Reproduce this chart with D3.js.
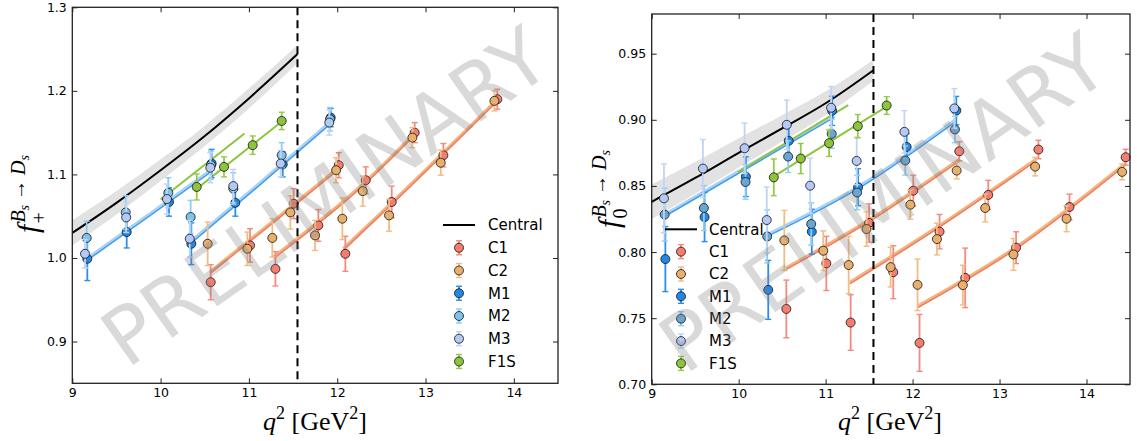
<!DOCTYPE html>
<html lang="en">
<head>
<meta charset="UTF-8">
<title>Bs to Ds form factors</title>
<script src="https://cdn.jsdelivr.net/npm/d3@7/dist/d3.min.js"></script>
<style>
    body { margin: 0; background: #fff; }
    svg text { font-family: "DejaVu Sans", sans-serif; }
    .math { font-family: "Liberation Serif", "DejaVu Serif", serif; }
</style>
</head>
<body>
<svg id="chart" width="1137" height="441"></svg>
<script>
// ---------- data (q2, value, error) ----------
var xTicks = [9, 10, 11, 12, 13, 14];
var plusYTicks = [0.9, 1.0, 1.1, 1.2, 1.3];
var plusYLabels = ["0.9", "1.0", "1.1", "1.2", "1.3"];
var zeroYTicks = [0.70, 0.75, 0.80, 0.85, 0.90, 0.95];
var zeroYLabels = ["0.70", "0.75", "0.80", "0.85", "0.90", "0.95"];
var legendNames = ["C1", "C2", "M1", "M2", "M3", "F1S"];
var qMax = 11.55;

// f_+ panel
var centralQ2 = [9.0, 9.5, 10.0, 10.5, 11.0, 11.55];
var plusCentral = [1.030, 1.066, 1.105, 1.146, 1.191, 1.244];
var plusBand = [0.015, 0.014, 0.013, 0.012, 0.012, 0.011];

var plusC1 = [[10.567, 0.971, 0.021], [11.013, 1.015, 0.020], [11.300, 0.987, 0.0205], [11.507, 1.065, 0.018],
    [11.786, 1.039, 0.019], [12.017, 1.111, 0.015], [12.092, 1.005, 0.021], [12.323, 1.093, 0.016],
    [12.617, 1.067, 0.019], [12.877, 1.150, 0.012], [13.202, 1.123, 0.014], [13.813, 1.190, 0.012]];
var plusC2 = [[10.533, 1.017, 0.026], [10.982, 1.011, 0.020], [11.265, 1.024, 0.023], [11.469, 1.0545, 0.020],
    [11.749, 1.027, 0.018], [11.987, 1.105, 0.015], [12.058, 1.047, 0.025], [12.289, 1.080, 0.018],
    [12.587, 1.051, 0.019], [12.851, 1.144, 0.012], [13.172, 1.114, 0.015], [13.780, 1.188, 0.012]];
var plusM1 = [[9.170, 0.999, 0.026], [9.616, 1.031, 0.019], [10.095, 1.067, 0.017], [10.578, 1.113, 0.017],
    [10.348, 1.017, 0.025], [10.846, 1.066, 0.016], [11.383, 1.112, 0.015], [11.926, 1.168, 0.011]];
var plusM2 = [[9.163, 1.024, 0.020], [9.605, 1.0545, 0.020], [10.087, 1.078, 0.018], [10.570, 1.111, 0.017],
    [10.340, 1.049, 0.020], [10.823, 1.083, 0.019], [11.371, 1.123, 0.015], [11.918, 1.166, 0.014]];
var plusM3 = [[9.144, 1.005, 0.017], [9.610, 1.0485, 0.018], [10.072, 1.0705, 0.018], [10.563, 1.108, 0.018],
    [10.330, 1.023, 0.022], [10.823, 1.086, 0.020], [11.360, 1.113, 0.016], [11.910, 1.162, 0.015]];
var plusF1S = [[10.409, 1.085, 0.0156], [10.718, 1.109, 0.012], [11.043, 1.135, 0.011], [11.371, 1.164, 0.0104]];

var plusFitC = [[[10.56, 0.983], [11.30, 1.046], [12.02, 1.108]],
    [[11.28, 1.001], [12.30, 1.089], [12.88, 1.149]],
    [[12.07, 1.011], [12.60, 1.064], [13.81, 1.189]]];
var plusFitM = [[[9.17, 0.999], [10.10, 1.069], [10.60, 1.107]],
    [[10.34, 1.019], [11.10, 1.087], [11.93, 1.163]]];
var plusFitF = [[[10.00, 1.070], [10.95, 1.149]],
    [[10.41, 1.083], [11.37, 1.163]]];

// f_0 panel
var zeroCentral = [0.838, 0.856, 0.875, 0.8935, 0.9125, 0.9375];
var zeroBand = [0.013, 0.012, 0.011, 0.010, 0.009, 0.008];

var zeroC1 = [[10.548, 0.757, 0.0218], [11.008, 0.7914, 0.0205], [11.288, 0.7467, 0.021], [11.500, 0.822, 0.0145],
    [11.778, 0.7848, 0.020], [12.008, 0.8464, 0.0117], [12.080, 0.7313, 0.0215], [12.310, 0.8154, 0.013],
    [12.537, 0.8762, 0.0072], [12.605, 0.7805, 0.0225], [12.870, 0.8432, 0.011], [13.190, 0.8033, 0.012],
    [13.447, 0.8775, 0.007], [13.804, 0.8341, 0.0097], [14.450, 0.8717, 0.006]];
var zeroC2 = [[10.525, 0.8088, 0.0227], [10.973, 0.801, 0.015], [11.265, 0.7902, 0.0217], [11.470, 0.8174, 0.013],
    [11.747, 0.7886, 0.015], [11.974, 0.8358, 0.011], [12.057, 0.7752, 0.0195], [12.280, 0.8098, 0.012],
    [12.507, 0.8616, 0.0063], [12.578, 0.775, 0.015], [12.835, 0.8333, 0.0105], [13.160, 0.7982, 0.012],
    [13.409, 0.8646, 0.007], [13.770, 0.8252, 0.0098], [14.410, 0.8606, 0.006]];
var zeroM1 = [[9.157, 0.7947, 0.0246], [9.608, 0.8265, 0.0186], [10.083, 0.857, 0.015], [10.576, 0.8841, 0.012],
    [11.075, 0.9068, 0.011], [10.340, 0.7714, 0.0223], [10.841, 0.8154, 0.017], [11.373, 0.849, 0.014],
    [11.932, 0.8795, 0.010], [12.503, 0.907, 0.0107]];
var zeroM2 = [[9.149, 0.8283, 0.020], [9.600, 0.8333, 0.017], [10.079, 0.853, 0.013], [10.569, 0.8722, 0.012],
    [11.070, 0.8894, 0.011], [10.328, 0.8118, 0.020], [10.834, 0.8212, 0.016], [11.362, 0.845, 0.013],
    [11.916, 0.8692, 0.011], [12.487, 0.8927, 0.010]];
var zeroM3 = [[9.141, 0.8406, 0.026], [9.589, 0.8631, 0.022], [10.068, 0.8785, 0.019], [10.553, 0.8962, 0.0187],
    [11.063, 0.9091, 0.016], [10.323, 0.8242, 0.025], [10.822, 0.8502, 0.0208], [11.357, 0.8689, 0.018],
    [11.906, 0.8909, 0.016], [12.480, 0.9086, 0.015]];
var zeroF1S = [[10.404, 0.8565, 0.0139], [10.714, 0.8707, 0.0114], [11.040, 0.8823, 0.010],
    [11.370, 0.8952, 0.0088], [11.702, 0.9108, 0.0067]];

var zeroFitC = [[[10.55, 0.788], [11.50, 0.824], [12.54, 0.870]],
    [[11.28, 0.777], [12.30, 0.8195], [13.42, 0.870]],
    [[12.06, 0.759], [13.19, 0.8035], [14.45, 0.867]]];
var zeroFitM = [[[9.15, 0.828], [10.10, 0.8645], [11.10, 0.903]],
    [[10.33, 0.813], [11.39, 0.8497], [12.50, 0.900]]];
var zeroFitF = [[[9.99, 0.8603], [11.26, 0.9111]],
    [[10.40, 0.857], [11.70, 0.910]]];

// ---------- styles ----------
var style = {
    C1: {fill: "#f47d70", bar: "#f48a7e"},
    C2: {fill: "#e9b06c", bar: "#f1bd84"},
    M1: {fill: "#2188e6", bar: "#2b8fe8"},
    M2: {fill: "#7cc4ee", bar: "#8ccdf2"},
    M3: {fill: "#b4c9f6", bar: "#c0d3f8"},
    F1S: {fill: "#8cc43c", bar: "#96c94a"}
};
var styleZeroM2 = {fill: "#6aa6d3", bar: "#8ccdf2"};

var panels = [
    {x0: 72.3, x1: 558, y0: 7.3, y1: 383.3, yDomain: [0.85, 1.3], yTicks: plusYTicks, yLabels: plusYLabels,
        central: plusCentral, band: plusBand, fitC: plusFitC, fitM: plusFitM, fitF: plusFitF,
        series: [plusC1, plusC2, plusM1, plusM2, plusM3, plusF1S], m2: style.M2,
        legX: 459, legTextX: 488, legY: 225, legStep: 22.75, sub: "+", labX: 38, labY: 194, xlabX: 315,
        wmX: 325, wmY: 197},
    {x0: 651.7, x1: 1130, y0: 14, y1: 384.3, yDomain: [0.70, 0.98], yTicks: zeroYTicks, yLabels: zeroYLabels,
        central: zeroCentral, band: zeroBand, fitC: zeroFitC, fitM: zeroFitM, fitF: zeroFitF,
        series: [zeroC1, zeroC2, zeroM1, zeroM2, zeroM3, zeroF1S], m2: styleZeroM2,
        legX: 681, legTextX: 709, legY: 229.3, legStep: 22.35, sub: "0", labX: 619, labY: 189, xlabX: 890,
        wmX: 883, wmY: 203}
];

var svg = d3.select("#chart");

function errorbars(g, data, st, x, y) {
    var s = g.append("g");
    s.selectAll(".bar").data(data).join("line")
        .attr("x1", function (d) { return x(d[0]); }).attr("x2", function (d) { return x(d[0]); })
        .attr("y1", function (d) { return y(d[1] - d[2]); }).attr("y2", function (d) { return y(d[1] + d[2]); })
        .attr("stroke", st.bar).attr("stroke-width", 1.8);
    [-1, 1].forEach(function (sg) {
        s.selectAll(".cap" + sg).data(data).join("line")
            .attr("x1", function (d) { return x(d[0]) - 3; }).attr("x2", function (d) { return x(d[0]) + 3; })
            .attr("y1", function (d) { return y(d[1] + sg * d[2]); }).attr("y2", function (d) { return y(d[1] + sg * d[2]); })
            .attr("stroke", st.bar).attr("stroke-width", 1.4);
    });
    s.selectAll("circle").data(data).join("circle")
        .attr("cx", function (d) { return x(d[0]); }).attr("cy", function (d) { return y(d[1]); })
        .attr("r", 4.5).attr("fill", st.fill).attr("stroke", "#111").attr("stroke-width", 0.8);
}

function yLabel(p) {
    var g = svg.append("g");
    var f = g.append("text").attr("class", "math").attr("font-size", 30).attr("font-style", "italic").text("f");
    var fw = f.node().getComputedTextLength() + 1;
    g.append("text").attr("class", "math").attr("x", fw).attr("y", 8).attr("font-size", 20).text(p.sub);
    var sup = g.append("text").attr("class", "math").attr("x", fw + 1).attr("y", -13).attr("font-size", 20);
    sup.append("tspan").attr("font-style", "italic").text("B");
    sup.append("tspan").attr("font-style", "italic").attr("font-size", 14).attr("dy", 4).text("s");
    sup.append("tspan").attr("dy", -4).text(" \u2192 ");
    sup.append("tspan").attr("font-style", "italic").text("D");
    sup.append("tspan").attr("font-style", "italic").attr("font-size", 14).attr("dy", 4).text("s");
    var w = fw + sup.node().getComputedTextLength() + 1;
    g.attr("transform", "translate(" + p.labX + "," + (p.labY + w / 2) + ") rotate(-90)");
}

function xLabel(p) {
    var t = svg.append("text").attr("class", "math").attr("x", p.xlabX).attr("y", 430)
        .attr("text-anchor", "middle").attr("font-size", 26);
    t.append("tspan").attr("font-style", "italic").text("q");
    t.append("tspan").attr("font-size", 18).attr("dy", -11).text("2");
    t.append("tspan").attr("dy", 11).text(" [GeV");
    t.append("tspan").attr("font-size", 18).attr("dy", -11).text("2");
    t.append("tspan").attr("dy", 11).text("]");
}

panels.forEach(function (p) {
    var x = d3.scaleLinear().domain([9, 14.5]).range([p.x0, p.x1]);
    var y = d3.scaleLinear().domain(p.yDomain).range([p.y1, p.y0]);
    var g = svg.append("g");
    var line = d3.line().x(function (d) { return x(d[0]); }).y(function (d) { return y(d[1]); }).curve(d3.curveMonotoneX);

    // central fit with band
    var cdata = centralQ2.map(function (q, i) { return [q, p.central[i], p.band[i]]; });
    g.append("path").datum(cdata)
        .attr("d", d3.area().x(function (d) { return x(d[0]); })
            .y0(function (d) { return y(d[1] - d[2]); }).y1(function (d) { return y(d[1] + d[2]); })
            .curve(d3.curveMonotoneX))
        .attr("fill", "#e2e2e2");
    g.append("path").datum(cdata).attr("d", line).attr("fill", "none").attr("stroke", "#000").attr("stroke-width", 2);

    // per-ensemble fit lines
    p.fitC.forEach(function (f) {
        g.append("path").datum(f).attr("d", line).attr("fill", "none").attr("stroke", "#f1b57a").attr("stroke-width", 3.6);
        g.append("path").datum(f).attr("d", line).attr("fill", "none").attr("stroke", "#f27b6c").attr("stroke-width", 1.4)
            .attr("transform", "translate(0,1.3)");
    });
    p.fitM.forEach(function (f) {
        g.append("path").datum(f).attr("d", line).attr("fill", "none").attr("stroke", "#a9d1f6").attr("stroke-width", 3.8);
        g.append("path").datum(f).attr("d", line).attr("fill", "none").attr("stroke", "#3b9be9").attr("stroke-width", 1.3)
            .attr("transform", "translate(0,1.4)");
    });
    p.fitF.forEach(function (f) {
        g.append("path").datum(f).attr("d", line).attr("fill", "none").attr("stroke", "#8cc63f").attr("stroke-width", 2);
    });

    // data points
    legendNames.forEach(function (n, i) {
        errorbars(g, p.series[i], n === "M2" ? p.m2 : style[n], x, y);
    });

    // q2_max
    g.append("line").attr("x1", x(qMax)).attr("x2", x(qMax)).attr("y1", p.y0).attr("y2", p.y1)
        .attr("stroke", "#000").attr("stroke-width", 2).attr("stroke-dasharray", "8,5");

    // axes: ticks inside on all sides
    var tk = 5;
    g.append("g").attr("transform", "translate(0," + p.y1 + ")")
        .call(d3.axisBottom(x).tickValues(xTicks).tickFormat(d3.format("d")).tickSizeInner(-tk).tickSizeOuter(0).tickPadding(5));
    g.append("g").attr("transform", "translate(0," + p.y0 + ")")
        .call(d3.axisTop(x).tickValues(xTicks).tickFormat(function () { return ""; }).tickSizeInner(-tk).tickSizeOuter(0));
    g.append("g").attr("transform", "translate(" + p.x0 + ",0)")
        .call(d3.axisLeft(y).tickValues(p.yTicks).tickFormat(function (d, i) { return p.yLabels[i]; })
            .tickSizeInner(-tk).tickSizeOuter(0).tickPadding(5.5));
    g.append("g").attr("transform", "translate(" + p.x1 + ",0)")
        .call(d3.axisRight(y).tickValues(p.yTicks).tickFormat(function () { return ""; }).tickSizeInner(-tk).tickSizeOuter(0));
    g.selectAll(".domain").remove();
    g.selectAll(".tick line").attr("stroke", "#222").attr("stroke-width", 1);
    g.selectAll(".tick text").attr("font-size", 12.5).attr("fill", "#000").attr("font-family", "DejaVu Sans, sans-serif");
    g.append("rect").attr("x", p.x0).attr("y", p.y0).attr("width", p.x1 - p.x0).attr("height", p.y1 - p.y0)
        .attr("fill", "none").attr("stroke", "#222").attr("stroke-width", 1.3);

    // legend
    var lg = g.append("g");
    lg.append("line").attr("x1", p.legX - 16).attr("x2", p.legX + 16).attr("y1", p.legY).attr("y2", p.legY)
        .attr("stroke", "#000").attr("stroke-width", 2);
    lg.append("text").attr("x", p.legTextX).attr("y", p.legY).attr("dy", "0.35em").attr("font-size", 15).text("Central");
    legendNames.forEach(function (n, i) {
        var st = n === "M2" ? p.m2 : style[n];
        var cy = p.legY + (i + 1) * p.legStep;
        lg.append("line").attr("x1", p.legX).attr("x2", p.legX).attr("y1", cy - 7).attr("y2", cy + 7)
            .attr("stroke", st.bar).attr("stroke-width", 1.8);
        [-7, 7].forEach(function (o) {
            lg.append("line").attr("x1", p.legX - 3).attr("x2", p.legX + 3).attr("y1", cy + o).attr("y2", cy + o)
                .attr("stroke", st.bar).attr("stroke-width", 1.4);
        });
        lg.append("circle").attr("cx", p.legX).attr("cy", cy).attr("r", 4.5)
            .attr("fill", st.fill).attr("stroke", "#111").attr("stroke-width", 0.8);
        lg.append("text").attr("x", p.legTextX).attr("y", cy).attr("dy", "0.35em").attr("font-size", 15).text(n);
    });

    // watermark
    g.append("text").attr("transform", "translate(" + p.wmX + "," + p.wmY + ") rotate(-35)")
        .attr("text-anchor", "middle").attr("dy", "0.35em").attr("font-size", 79)
        .attr("fill", "#808080").attr("fill-opacity", 0.3).text("PRELIMINARY");

    yLabel(p);
    xLabel(p);
});
</script>
</body>
</html>
